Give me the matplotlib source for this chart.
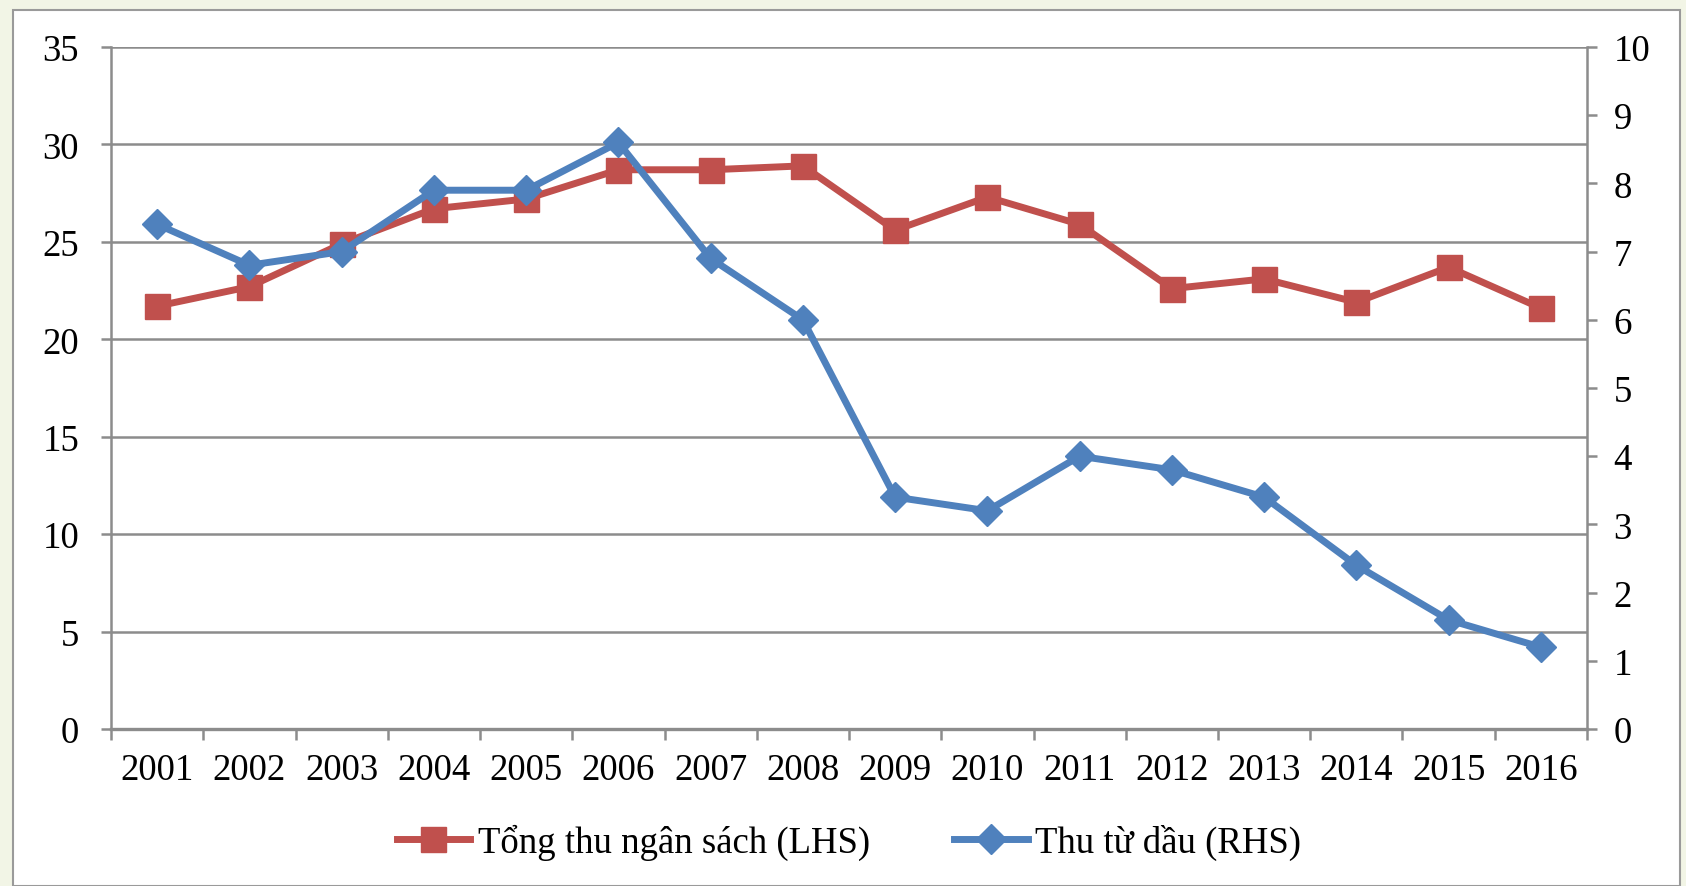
import matplotlib.pyplot as plt
import matplotlib.patches as patches

years = ['2001', '2002', '2003', '2004', '2005', '2006', '2007', '2008',
         '2009', '2010', '2011', '2012', '2013', '2014', '2015', '2016']
tong_thu = [21.7, 22.7, 24.9, 26.7, 27.2, 28.7, 28.7, 28.9,
            25.6, 27.3, 25.9, 22.6, 23.1, 21.9, 23.7, 21.6]
thu_dau = [7.4, 6.8, 7.0, 7.9, 7.9, 8.6, 6.9, 6.0,
           3.4, 3.2, 4.0, 3.8, 3.4, 2.4, 1.6, 1.2]
left_ticks = [0, 5, 10, 15, 20, 25, 30, 35]
right_ticks = [0, 1, 2, 3, 4, 5, 6, 7, 8, 9, 10]

red = '#C0504D'
blue = '#4F81BD'
grey = '#8C8C8C'
serif = ['Liberation Serif', 'DejaVu Serif']
fs = 26.5

fig = plt.figure(figsize=(16.86, 8.87), dpi=100, facecolor='#F2F5E6')
# white framed panel behind everything
fig.patches.append(patches.Rectangle((13 / 1686, 0), (1680 - 13) / 1686, 1 - 11 / 887,
                                     transform=fig.transFigure, facecolor='white',
                                     edgecolor='#9A9A9A', linewidth=1.5, zorder=-10))

ax = fig.add_axes([111 / 1686, 1 - 730 / 887, (1587 - 111) / 1686, (730 - 48) / 887])
ax.set_facecolor('none')
ax2 = ax.twinx()

x = list(range(len(years)))
ax.plot(x, tong_thu, color=red, linewidth=5, marker='s', markersize=18,
        label='Tổng thu ngân sách (LHS)', zorder=3)
ax2.plot(x, thu_dau, color=blue, linewidth=5, marker='D', markersize=15,
         label='Thu từ dầu (RHS)', zorder=3)

ax.set_xlim(-0.5, len(years) - 0.5)
ax.set_ylim(0, 35)
ax2.set_ylim(0, 10)
ax.set_yticks(left_ticks)
ax2.set_yticks(right_ticks)
ax.set_xticks([i - 0.5 for i in range(len(years) + 1)])
ax.set_xticklabels([])
ax.set_xticks(x, minor=True)
ax.set_xticklabels(years, minor=True)

ax.grid(axis='y', color=grey, linewidth=1.8)
ax.set_axisbelow(True)

for a in (ax, ax2):
    for s in a.spines.values():
        s.set_visible(False)
ax.spines['left'].set_visible(True)
ax.spines['left'].set_color(grey)
ax.spines['left'].set_linewidth(1.8)
ax.spines['bottom'].set_visible(True)
ax.spines['bottom'].set_color(grey)
ax.spines['bottom'].set_linewidth(2.4)
ax2.spines['right'].set_visible(True)
ax2.spines['right'].set_color(grey)
ax2.spines['right'].set_linewidth(1.8)

ax.tick_params(axis='y', length=7, width=1.8, color=grey, pad=16, labelsize=fs)
ax2.tick_params(axis='y', length=7, width=1.8, color=grey, pad=12, labelsize=fs)
ax.tick_params(axis='x', which='major', length=8, width=1.8, color=grey)
ax.tick_params(axis='x', which='minor', length=0, pad=17, labelsize=fs)
for lab in ax.get_yticklabels() + ax2.get_yticklabels() + ax.get_xticklabels(minor=True):
    lab.set_fontfamily(serif)

h1, l1 = ax.get_legend_handles_labels()
h2, l2 = ax2.get_legend_handles_labels()
ax.legend(h1 + h2, l1 + l2, loc='center', bbox_to_anchor=(0.5, -0.165), ncol=2,
          frameon=False, prop={'family': serif, 'size': fs}, handlelength=2.0,
          columnspacing=2.3, handletextpad=0.2)

fig.savefig('out.png', dpi=100, facecolor=fig.get_facecolor())
